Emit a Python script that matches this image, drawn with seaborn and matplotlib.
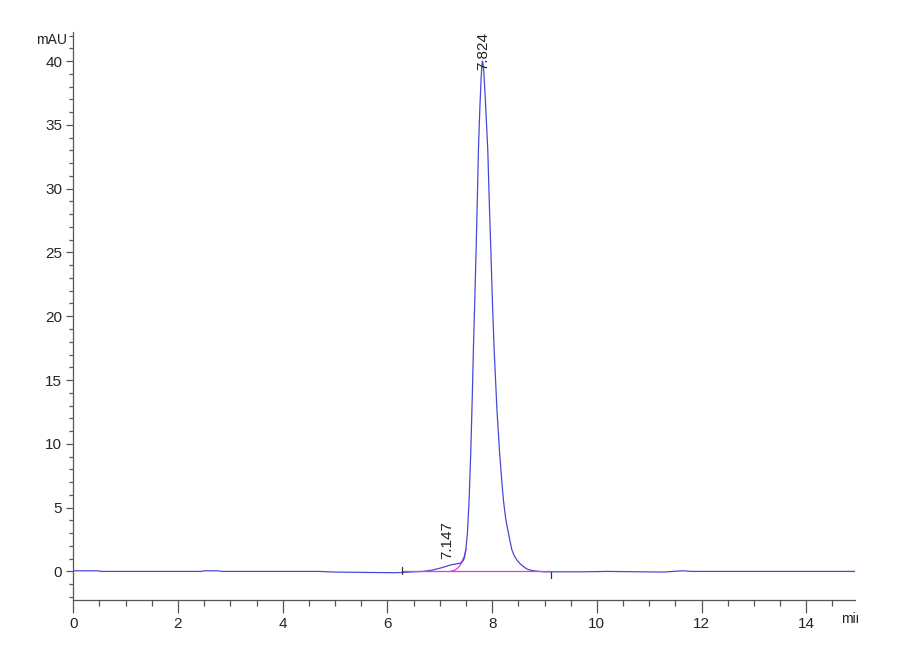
import numpy as np
import pandas as pd
import seaborn as sns
import matplotlib.pyplot as plt
from matplotlib.patches import Rectangle
from matplotlib.ticker import MultipleLocator

# chromatogram trace (time in min, signal in mAU)
trace_time = [0.0, 0.48, 0.52, 2.45, 2.5, 2.78, 2.82, 4.7, 5.0, 5.6, 6.15, 6.3,
              6.5, 6.68, 6.85, 7.0, 7.1, 7.2, 7.3, 7.39, 7.44, 7.47, 7.497,
              7.528, 7.56, 7.593, 7.62, 7.642, 7.67, 7.694, 7.718, 7.738, 7.765,
              7.79, 7.805, 7.814, 7.825, 7.84, 7.87, 7.917, 7.945, 7.975, 8.005,
              8.038, 8.09, 8.139, 8.18, 8.215, 8.26, 8.311, 8.376, 8.42, 8.471,
              8.54, 8.598, 8.66, 8.726, 8.85, 9.0, 9.74, 10.2, 11.27, 11.45,
              11.64, 11.8, 12.5, 13.5, 14.93]
trace_mau = [0.05, 0.05, 0.0, 0.0, 0.05, 0.05, 0.0, 0.0, -0.05, -0.08, -0.1, -0.08,
             -0.03, 0.0, 0.1, 0.25, 0.37, 0.5, 0.58, 0.64, 0.8, 1.05, 1.7,
             3.0, 5.6, 9.5, 13.6, 17.4, 21.5, 25.2, 29.3, 33.05, 36.3,
             38.7, 39.7, 40.0, 39.8, 39.2, 37.0, 33.0, 29.0, 25.2, 21.2,
             17.4, 12.8, 9.5, 7.3, 5.6, 4.1, 3.0, 1.7, 1.25, 0.9,
             0.58, 0.38, 0.2, 0.1, 0.02, -0.03, -0.03, 0.0, -0.05, 0.0,
             0.05, 0.0, 0.0, 0.0, 0.0]

# integration baseline and peak split
base_time = [6.28, 9.12]
base_mau = [0.0, 0.0]
split_time = [7.2, 7.28, 7.34, 7.39, 7.43, 7.47, 7.5]
split_mau = [0.0, 0.08, 0.25, 0.5, 0.85, 1.2, 1.75]

peak_times = [7.147, 7.824]
peak_labels = ["7.147", "7.824"]
peak_label_y = [0.95, 39.3]
event_marks = [(6.28, -0.2, 0.38), (9.12, -0.53, -0.02)]

sns.set_style("white")
plt.rcParams['font.family'] = ['Liberation Sans Narrow', 'Liberation Sans', 'DejaVu Sans']

fig = plt.figure(figsize=(9, 6.6), dpi=100)
ax = fig.add_axes([0.0814, 0.0909, 0.8686, 0.8611])

df = pd.DataFrame({"time": trace_time, "mAU": trace_mau})
sns.lineplot(x=split_time, y=split_mau, ax=ax, color="#e633e6", lw=0.9,
             estimator=None, sort=False)
sns.lineplot(data=df, x="time", y="mAU", ax=ax, color="#4848d8", lw=0.9,
             estimator=None, sort=False)
sns.lineplot(x=base_time, y=base_mau, ax=ax, color="#e633e6", lw=0.9,
             estimator=None, sort=False)

for t, lo, hi in event_marks:
    ax.plot([t, t], [lo, hi], color="#333333", lw=0.9)

for t, lab, y in zip(peak_times, peak_labels, peak_label_y):
    ax.text(t, y, lab, rotation=90, ha="center", va="bottom", fontsize=11,
            color="#222222", clip_on=False)

ax.set_xlim(0, 14.93)
ax.set_ylim(-2.24, 42.3)
ax.xaxis.set_major_locator(MultipleLocator(2))
ax.xaxis.set_minor_locator(MultipleLocator(0.5))
ax.yaxis.set_major_locator(MultipleLocator(5))
ax.yaxis.set_minor_locator(MultipleLocator(1))
ax.set_yticks(np.arange(0, 41, 5))
ax.tick_params(axis="x", which="major", length=9, width=0.9, pad=3, labelsize=11,
               color="#555555", direction="out", bottom=True)
ax.tick_params(axis="x", which="minor", length=4, width=0.9, color="#555555",
               direction="out", bottom=True)
ax.tick_params(axis="y", which="major", length=5, width=0.9, pad=3, labelsize=11,
               color="#555555", direction="out", left=True)
ax.tick_params(axis="y", which="minor", length=3, width=0.9, color="#555555",
               direction="out", left=True)
ax.set_xlabel("")
ax.set_ylabel("")
sns.despine(ax=ax)
for side in ["left", "bottom"]:
    ax.spines[side].set_color("#555555")
    ax.spines[side].set_linewidth(0.9)

fig.text(0.057, 0.939, "mAU", ha="center", va="center", fontsize=10, color="#222222")
unit = fig.text(0.934, 0.062, "min", ha="left", va="center", fontsize=10, color="#222222")
unit.set_clip_path(Rectangle((0.9, 0.0), 0.0535, 0.1, transform=fig.transFigure))

fig.savefig("out.png", dpi=100)
